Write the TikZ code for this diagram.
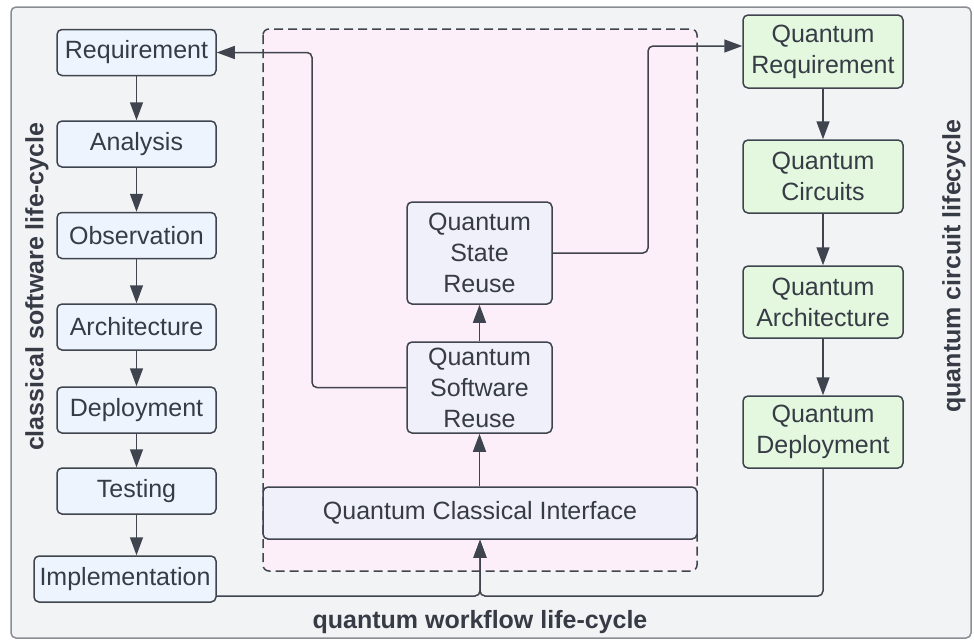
\documentclass[tikz,border=0pt]{standalone}
\usepackage{fontspec}
\setmainfont{Liberation Sans}
\usepackage{tikz}
\usetikzlibrary{arrows.meta}
\definecolor{bgcol}{HTML}{F2F3F5}
\definecolor{framecol}{HTML}{8A8D93}
\definecolor{linecol}{HTML}{3F444E}
\definecolor{txtcol}{HTML}{363B45}
\definecolor{bluebox}{HTML}{EDF4FD}
\definecolor{pinkzone}{HTML}{FDEFF9}
\definecolor{lilacbox}{HTML}{EFF0FA}
\definecolor{greenbox}{HTML}{E3F8DF}

\begin{document}
\begin{tikzpicture}[x=1pt,y=-1pt,line width=1.5pt,
  every node/.style={text=txtcol,font=\fontsize{25}{31}\selectfont},
  box/.style={draw=linecol,rounded corners=5,align=center,inner sep=0pt},
  cbox/.style={box,fill=bluebox,minimum width=159,minimum height=46},
  qbox/.style={box,fill=greenbox,minimum width=160,minimum height=72},
  mbox/.style={box,fill=lilacbox,minimum width=145},
  arr/.style={draw=linecol,-{Triangle[length=18pt,width=13pt]}},
  lbl/.style={font=\fontsize{25}{30}\selectfont\bfseries}]
\useasboundingbox (0,0) rectangle (974,640);
\draw[fill=bgcol,draw=framecol,rounded corners=5] (11,7) rectangle (971,638);
\draw[fill=pinkzone,draw=linecol,dashed,dash pattern=on 9pt off 5pt,rounded corners=6] (263,29) rectangle (697,571);
% classical column
\node[cbox] (req) at (136.5,52.5) {Requirement};
\node[cbox] (ana) at (136.5,144) {Analysis};
\node[cbox] (obs) at (136.5,235.5) {Observation};
\node[cbox] (arch) at (136.5,327) {Architecture};
\node[cbox] (dep) at (136.5,410) {Deployment};
\node[cbox] (test) at (136.5,491) {Testing};
\node[cbox,minimum width=182] (impl) at (125,579) {Implementation};
% workflow zone
\node[mbox,minimum height=102] (qstate) at (479.5,253) {Quantum\\State\\Reuse};
\node[mbox,minimum height=91] (qsoft) at (479.5,387.5) {Quantum\\Software\\Reuse};
\node[box,fill=lilacbox,minimum width=434,minimum height=52] (qci) at (480,513) {Quantum Classical Interface};
% quantum column
\node[qbox,minimum height=73] (qreq) at (823,51.5) {Quantum\\Requirement};
\node[qbox,minimum height=73] (qcirc) at (823,176.5) {Quantum\\Circuits};
\node[qbox] (qarch) at (823,302) {Quantum\\Architecture};
\node[qbox] (qdep) at (823,432) {Quantum\\Deployment};
% labels
\node[lbl,rotate=90] (lcl) at (37,287) {classical software life-cycle};
\node[lbl,rotate=90] (lqc) at (954,266) {quantum circuit lifecycle};
\node[lbl] (lqw) at (480,622) {quantum workflow life-cycle};
% arrows
\foreach \a/\b in {req/ana,ana/obs,obs/arch,arch/dep,dep/test}
  \draw[arr] (\a.south) -- (\b.north);
\draw[arr] (test.south) -- (test.south |- impl.north);
\foreach \a/\b in {qreq/qcirc,qcirc/qarch,qarch/qdep}
  \draw[arr] (\a.south) -- (\b.north);
\draw[arr] (qci.north -| qsoft.south) -- (qsoft.south);
\draw[arr] (qsoft.north) -- (qstate.south);
\coordinate (c1) at (312,52.5);
\coordinate (c2) at (648,46);
\coordinate (c3) at (480,596);
\draw[arr,rounded corners=5] (qsoft.west) -| (c1) -- (req.east);
\draw[arr,rounded corners=5] (qstate.east) -| (c2) -- (c2 -| qreq.west);
\draw[arr,rounded corners=5] (impl.east |- c3) -| (qci.south);
\draw[arr,rounded corners=5] (qdep.south) |- (c3) -- (qci.south);
\end{tikzpicture}
\end{document}
